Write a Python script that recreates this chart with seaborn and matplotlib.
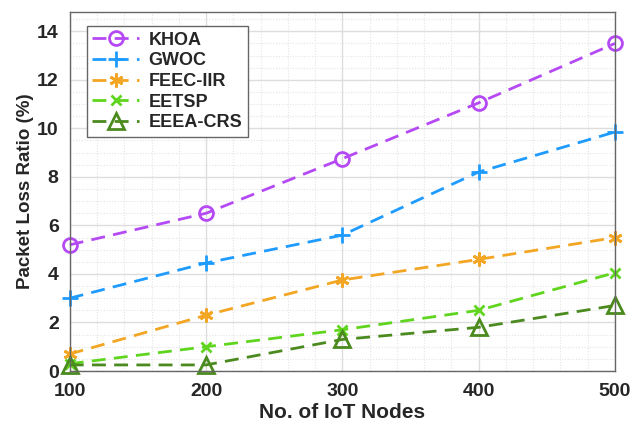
import matplotlib
matplotlib.use("Agg")
import matplotlib.pyplot as plt
from matplotlib.ticker import MultipleLocator
import seaborn as sns
import pandas as pd

# data
nodes = [100, 200, 300, 400, 500]
khoa = [5.2, 6.5, 8.75, 11.05, 13.5]
gwoc = [3.0, 4.45, 5.6, 8.2, 9.85]
feec_iir = [0.7, 2.3, 3.75, 4.6, 5.5]
eetsp = [0.3, 1.0, 1.7, 2.5, 4.05]
eeea_crs = [0.25, 0.25, 1.3, 1.8, 2.7]

series = {
    "KHOA": khoa,
    "GWOC": gwoc,
    "FEEC-IIR": feec_iir,
    "EETSP": eetsp,
    "EEEA-CRS": eeea_crs,
}
colors = {
    "KHOA": "#B54AF5",
    "GWOC": "#1E9BFF",
    "FEEC-IIR": "#F2A623",
    "EETSP": "#5FD51E",
    "EEEA-CRS": "#4B8A1E",
}
markers = {
    "KHOA": dict(marker="o", mfc="none", ms=10),
    "GWOC": dict(marker="+", ms=12),
    "FEEC-IIR": dict(marker=(6, 2, 0), ms=10),
    "EETSP": dict(marker="x", ms=7),
    "EEEA-CRS": dict(marker="^", mfc="none", ms=11),
}

sns.set_style("white")
plt.rcParams["font.family"] = ["Liberation Sans", "DejaVu Sans"]
plt.rcParams["font.weight"] = "bold"

fig = plt.figure(figsize=(6.34, 4.24), dpi=100)
ax = fig.add_axes([0.110, 0.125, 0.860, 0.847])

for name, vals in series.items():
    df = pd.DataFrame({"x": nodes, "y": vals})
    sns.lineplot(data=df, x="x", y="y", ax=ax, color=colors[name],
                 linestyle=(0, (5, 3)), lw=2, mew=2, mec=colors[name],
                 label=name, clip_on=False, **markers[name])

ax.set_xlim(100, 500)
ax.set_ylim(0, 14.8)
ax.set_xticks(nodes)
ax.set_yticks(range(0, 15, 2))
ax.xaxis.set_minor_locator(MultipleLocator(20))
ax.yaxis.set_minor_locator(MultipleLocator(0.5))
ax.grid(True, which="major", color="#DDDDDD", lw=1)
ax.grid(True, which="minor", color="#E4E4E4", lw=0.8, linestyle=(0, (1, 1.5)))
ax.tick_params(axis="both", which="major", labelsize=14, length=4,
               direction="in", color="#555555")
ax.tick_params(axis="x", which="major", pad=9)
ax.tick_params(axis="y", which="major", pad=8)
ax.tick_params(which="minor", length=0)
for lbl in ax.get_xticklabels() + ax.get_yticklabels():
    lbl.set_fontweight("bold")
for s in ax.spines.values():
    s.set_color("#666666")
    s.set_linewidth(1)

ax.set_xlabel("No. of IoT Nodes", fontsize=15, fontweight="bold", labelpad=2)
ax.set_ylabel("Packet Loss Ratio (%)", fontsize=13.5, fontweight="bold", labelpad=2)

leg = ax.legend(loc="upper left", fontsize=13, handlelength=2.6,
                handletextpad=0.5, borderpad=0.3, labelspacing=0.2,
                fancybox=False, edgecolor="#666666", framealpha=1,
                bbox_to_anchor=(0.015, 0.985))
for t in leg.get_texts():
    t.set_fontweight("bold")

fig.savefig("out.png", dpi=100)
